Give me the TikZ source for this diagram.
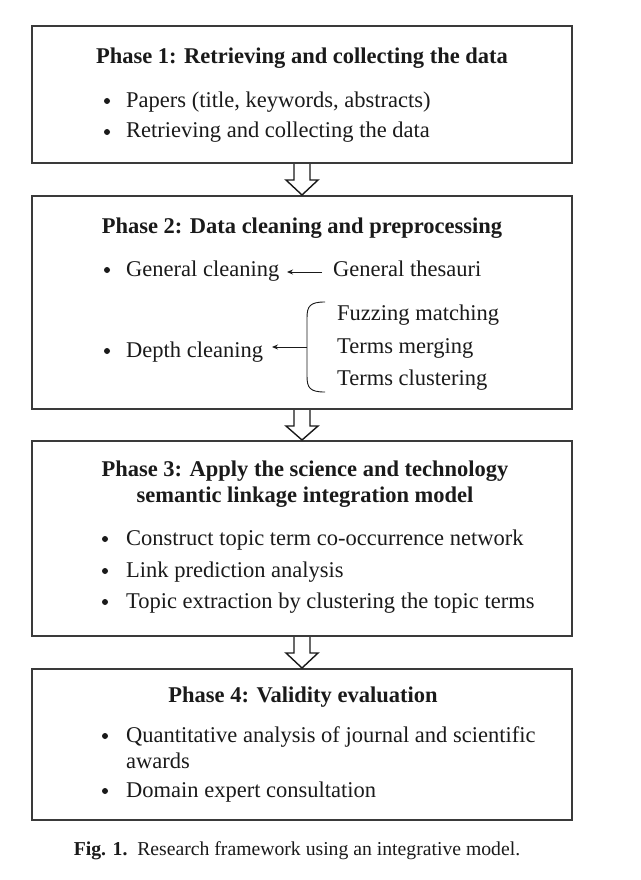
\documentclass[tikz,border=0pt]{standalone}
\usepackage{fontspec}
\setmainfont{Liberation Serif}
\usetikzlibrary{calc,arrows.meta}
\definecolor{ink}{HTML}{1A1A1A}
\definecolor{frame}{HTML}{3A3A3A}
\begin{document}
\begin{tikzpicture}[x=1pt,y=-1pt,
  phasebox/.style={draw=frame,line width=2pt,minimum width=540pt,inner sep=0pt},
  phasetitle/.style={anchor=base,font=\fontsize{22.5}{26}\selectfont\bfseries,text=ink,inner sep=0pt,align=center},
  item/.style={anchor=base west,font=\fontsize{22.5}{26}\selectfont,text=ink,inner sep=0pt},
  dot/.style={circle,fill=ink,inner sep=0pt,minimum size=6pt},
  blockarrow/.style={draw=ink,line width=1.4pt,fill=white,line join=miter},
  feed/.style={draw=ink,line width=0.9pt,-{Stealth[length=6pt,width=5pt]}},
  caption/.style={anchor=base,font=\fontsize{19.7}{22}\selectfont,text=ink,inner sep=0pt}]
\useasboundingbox[fill=white] (0,0) rectangle (640,880);

% the four phase frames
\node[phasebox,minimum height=137pt] (p1) at (302,94.5) {};
\node[phasebox,minimum height=213pt] (p2) at (302,302.5) {};
\node[phasebox,minimum height=195pt] (p3) at (302,538.5) {};
\node[phasebox,minimum height=151pt] (p4) at (302,744.5) {};

% hollow arrows between consecutive phases
\foreach \a/\b in {p1/p2,p2/p3,p3/p4}{
  \draw[blockarrow] ($(\a.south)+(-8,0)$) -- ($(\a.south)+(-8,16)$) -- ($(\a.south)+(-16,16)$)
    -- (\b.north) -- ($(\a.south)+(16,16)$) -- ($(\a.south)+(8,16)$) -- ($(\a.south)+(8,0)$);
}

% Phase 1
\node[phasetitle] (t1) at (302,64) {Phase 1: Retrieving and collecting the data};
\node[dot] (d11) at (107,101) {};
\node[item] (i11) at (126,107) {Papers (title, keywords, abstracts)};
\node[dot] (d12) at (107,132) {};
\node[item] (i12) at (126,138) {Retrieving and collecting the data};

% Phase 2
\node[phasetitle] (t2) at (302,233) {Phase 2: Data cleaning and preprocessing};
\node[dot] (d21) at (107,270) {};
\node[item] (i21) at (126,276) {General cleaning};
\node[item] (g21) at (333,276) {General thesauri};
\coordinate (gfrom) at (322,272);
\coordinate (gto) at (287,272);
\draw[feed] (gfrom) -- (gto);

\node[dot] (d22) at (107,351) {};
\node[item] (i22) at (126,357) {Depth cleaning};
\node[item] (f1) at (337,320) {Fuzzing matching};
\node[item] (f2) at (337,353) {Terms merging};
\node[item] (f3) at (337,385) {Terms clustering};
% brace gathering the three depth-cleaning methods
\coordinate (bt) at (325,302);
\coordinate (bb) at (325,392);
\coordinate (bm) at (307,347);
\coordinate (dto) at (272,347);
\draw[ink,line width=0.9pt] (bt) .. controls (310,302) and (307,306) .. (307,318) -- (307,376)
  .. controls (307,388) and (310,392) .. (bb);
\draw[feed] (bm) -- (dto);

% Phase 3
\node[phasetitle] (t3) at (305,502) {Phase 3: Apply the science and technology\\semantic linkage integration model};
\node[dot] (d31) at (105,539) {};
\node[item] (i31) at (126,545) {Construct topic term co-occurrence network};
\node[dot] (d32) at (105,571) {};
\node[item] (i32) at (126,577) {Link prediction analysis};
\node[dot] (d33) at (105,602) {};
\node[item] (i33) at (126,608) {Topic extraction by clustering the topic terms};

% Phase 4
\node[phasetitle] (t4) at (303,702) {Phase 4: Validity evaluation};
\node[dot] (d41) at (105,736) {};
\node[item] (i41) at (126,742) {Quantitative analysis of journal and scientific};
\node[item] (i41b) at (126,768) {awards};
\node[dot] (d42) at (105,791) {};
\node[item] (i42) at (126,797) {Domain expert consultation};

% caption
\node[caption] (cap) at (297,855) {\textbf{Fig. 1.}\enspace Research framework using an integrative model.};
\end{tikzpicture}
\end{document}
